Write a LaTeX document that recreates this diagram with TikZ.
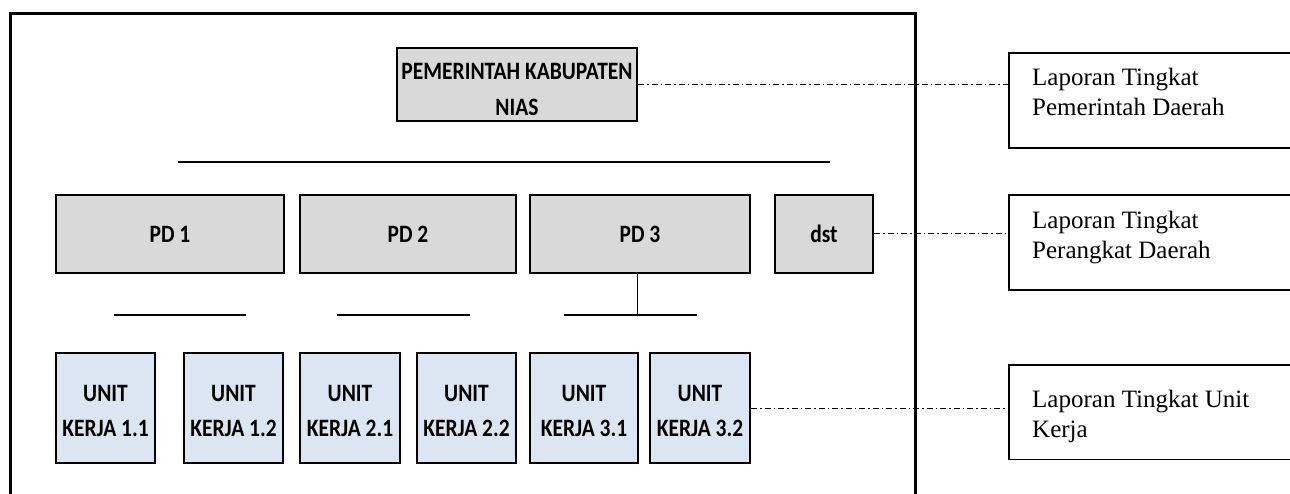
\documentclass[tikz,border=0pt]{standalone}
\usepackage{fontspec}
\setmainfont{Liberation Serif}
\newfontfamily\calibri[FakeStretch=0.86]{Carlito}
\usetikzlibrary{positioning}
\definecolor{boxgray}{HTML}{D9D9D9}
\definecolor{unitblue}{HTML}{DCE6F2}
\newcommand{\topstrut}[1]{\rule{0pt}{#1}}
\tikzset{pdbox/.style={draw,line width=2pt,fill=boxgray,inner sep=0pt,align=center,font=\calibri\bfseries\fontsize{25}{36}\selectfont}  }
\tikzset{unitbox/.style={draw,line width=2pt,fill=unitblue,inner sep=0pt,align=center,minimum height=110pt,font=\calibri\bfseries\fontsize{25}{35}\selectfont}  }
\tikzset{lapbox/.style={inner sep=0pt,minimum width=300pt,anchor=north west}  }
\tikzset{laptext/.style={inner sep=0pt,align=left,font=\fontsize{25}{30}\selectfont}  }
\tikzset{dashdot/.style={line width=1pt,dash pattern=on 6pt off 3pt on 1.5pt off 3pt}  }

\begin{document}
\begin{tikzpicture}[x=1pt,y=-1pt]
\useasboundingbox (0,0) rectangle (1290,494);
\clip (0,0) rectangle (1290,494);

  % outer frame, open at the bottom
  \draw[line width=3pt] (10,510) -- (10,14) -- (915,14) -- (915,510);

  \node[pdbox,minimum width=240pt,minimum height=73pt] (pemkab) at (517,84.5) {\topstrut{26pt}PEMERINTAH KABUPATEN\\NIAS};
  \draw[line width=1.5pt] (178,162) -- (830,162);

  \foreach \n/\x/\w/\t in {pd1/170/228/PD 1,pd2/408/216/PD 2,pd3/640/220/PD 3,dst/824/98/dst}
  {
    \node[pdbox,minimum width=\w pt,minimum height=78pt] (\n) at (\x,234) {\t};
  }

  % stubs under the PD boxes
  \coordinate (s1a) at (114,315); \coordinate (s1b) at (246,315);
  \coordinate (s2a) at (337,315); \coordinate (s2b) at (470,315);
  \coordinate (s3a) at (564,315); \coordinate (s3b) at (697,315);
  \draw[line width=1.5pt] (s1a) -- (s1b);
  \draw[line width=1.5pt] (s2a) -- (s2b);
  \draw[line width=1.5pt] (s3a) -- (s3b);
  \draw[line width=1pt] (pd3.south -| 637,0) -- (637,315);

  \foreach \n/\x/\w/\t in {u11/105.5/99/1.1,u12/233.5/99/1.2,u21/350/100/2.1,u22/466.5/99/2.2,u31/584/108/3.1,u32/700/100/3.2}
  {
    \node[unitbox,minimum width=\w pt] (\n) at (\x,408) {\topstrut{22pt}UNIT\\KERJA \t};
  }

  % report levels, boxes open to the right
  \node[lapbox,minimum height=95pt] (lap1) at (1009,53) {};
  \node[lapbox,minimum height=95pt] (lap2) at (1009,195) {};
  \node[lapbox,minimum height=94pt] (lap3) at (1009,365) {};
  \foreach \b in {lap1,lap2,lap3}
    \draw[line width=1.8pt] (\b.north east) -- (\b.north west) -- (\b.south west) -- (\b.south east);

  \node[laptext,below right=15pt and 23pt of lap1.north west] (lap1t) {Laporan Tingkat\\Pemerintah Daerah};
  \node[laptext,below right=16pt and 23pt of lap2.north west] (lap2t) {Laporan Tingkat\\Perangkat Daerah};
  \node[laptext,below right=25pt and 23pt of lap3.north west] (lap3t) {Laporan Tingkat Unit\\Kerja};

  \draw[dashdot] (pemkab.east) -- (pemkab.east -| lap1.west);
  \draw[dashdot] (dst.east) -- (dst.east -| lap2.west);
  \draw[dashdot] (u32.east) -- (u32.east -| lap3.west);
\end{tikzpicture}
\end{document}
